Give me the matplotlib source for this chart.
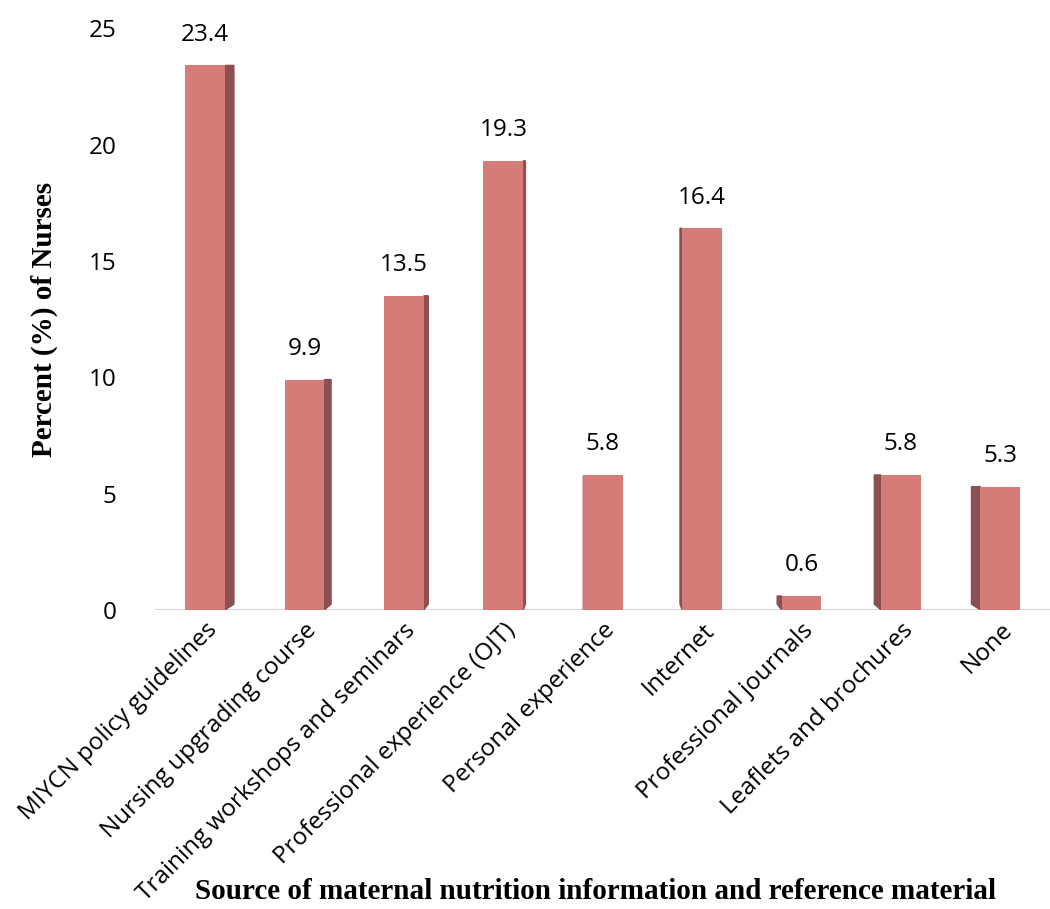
import numpy as np
import matplotlib.pyplot as plt
from matplotlib.patches import Polygon

categories = ['MIYCN policy guidelines', 'Nursing upgrading course',
              'Training workshops and seminars', 'Professional experience (OJT)',
              'Personal experience', 'Internet', 'Professional journals',
              'Leaflets and brochures', 'None']
values = [23.4, 9.9, 13.5, 19.3, 5.8, 16.4, 0.6, 5.8, 5.3]

front = '#D57B78'
side = '#8A5150'

fig = plt.figure(figsize=(10.5, 9.09), dpi=100)
ax = fig.add_axes([0.148, 0.329, 0.852, 0.64])

x = np.arange(len(categories))
w = 0.4
ax.bar(x, values, width=w, color=front, zorder=3)

# thin side faces to mimic the 3D look (side flips across the centre)
n = len(categories)
for i, v in enumerate(values):
    d = 0.09 * (1 - 2 * i / (n - 1))
    edge = x[i] + w / 2 if d > 0 else x[i] - w / 2
    poly = Polygon([(edge, 0), (edge + d, 0.25), (edge + d, v), (edge, v)],
                   closed=True, color=side, zorder=2)
    ax.add_patch(poly)
    ax.text(x[i], v + 0.8, f'{v}', ha='center', va='bottom',
            fontsize=17.5, family='Open Sans')

ax.axhline(0, color='#D0D0D0', lw=2, zorder=1)
ax.set_xlim(-0.5, n - 0.5)
ax.set_ylim(0, 25)
ax.set_yticks([0, 5, 10, 15, 20, 25])
ax.tick_params(axis='y', length=0, labelsize=17.5, pad=28)
ax.tick_params(axis='x', length=0, pad=6)
for lbl in ax.get_yticklabels():
    lbl.set_family('Open Sans')
ax.set_xticks(x)
ax.set_xticklabels(categories, rotation=45, ha='right', rotation_mode='anchor',
                   fontsize=17.5, family='Open Sans')
for s in ax.spines.values():
    s.set_visible(False)

ax.set_ylabel('Percent (%) of Nurses', family='Liberation Serif',
              fontweight='bold', fontsize=21, labelpad=22)
fig.text(0.567, 0.004, 'Source of maternal nutrition information and reference material',
         ha='center', va='bottom', family='Liberation Serif',
         fontweight='bold', fontsize=21)

fig.savefig('out.png', dpi=100)
